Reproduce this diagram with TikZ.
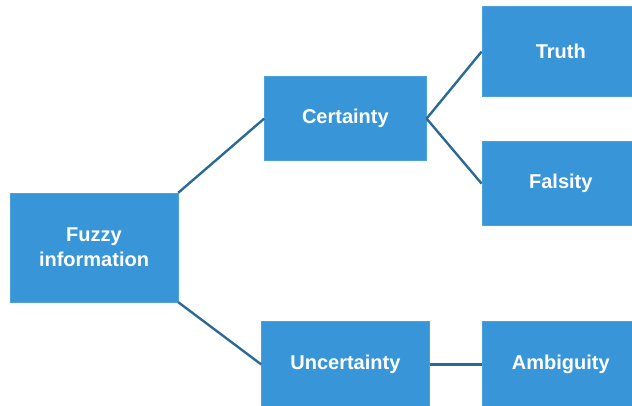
\documentclass[tikz,border=0pt]{standalone}
\usepackage{fontspec}
\setmainfont{Liberation Sans}
\usetikzlibrary{positioning}
\definecolor{boxblue}{RGB}{56,150,216}
\definecolor{linkblue}{RGB}{44,106,150}

\begin{document}
\begin{tikzpicture}[node distance=2cm]
% Define styles
\tikzstyle{box} = [rectangle, fill=boxblue, draw=boxblue!90!white, text=white, font=\bfseries\fontsize{20}{25}\selectfont, align=center, inner sep=0pt]
\tikzstyle{link} = [linkblue, line width=2.4pt]

% Frame
\useasboundingbox (-94pt,247.5pt) rectangle (538pt,-157.5pt);
\clip (-94pt,247.5pt) rectangle (538pt,-157.5pt);

% Root
\node (fuzzy) [box, minimum width=168pt, minimum height=109pt] {Fuzzy\\information};

% Second level
\node (certainty) [box, minimum width=162pt, minimum height=84pt, above right=32pt and 86pt of fuzzy] {Certainty};
\node (uncertainty) [box, minimum width=168pt, minimum height=86pt, below right=19pt and 83pt of fuzzy] {Uncertainty};
\draw [link] (fuzzy.north east) -- (certainty.west);
\draw [link] (fuzzy.south east) -- (uncertainty.west);

% Third level
\node (truth) [box, minimum width=158pt, minimum height=90pt, right=55pt of certainty, yshift=67pt] {Truth};
\node (falsity) [box, minimum width=158pt, minimum height=84pt, right=55pt of certainty, yshift=-65pt] {Falsity};
\node (ambiguity) [box, minimum width=158pt, minimum height=86pt, right=52pt of uncertainty] {Ambiguity};
\draw [link] (certainty.east) -- (truth.west);
\draw [link] (certainty.east) -- (falsity.west);
\draw [link] (uncertainty.east) -- (ambiguity.west);
\end{tikzpicture}
\end{document}
